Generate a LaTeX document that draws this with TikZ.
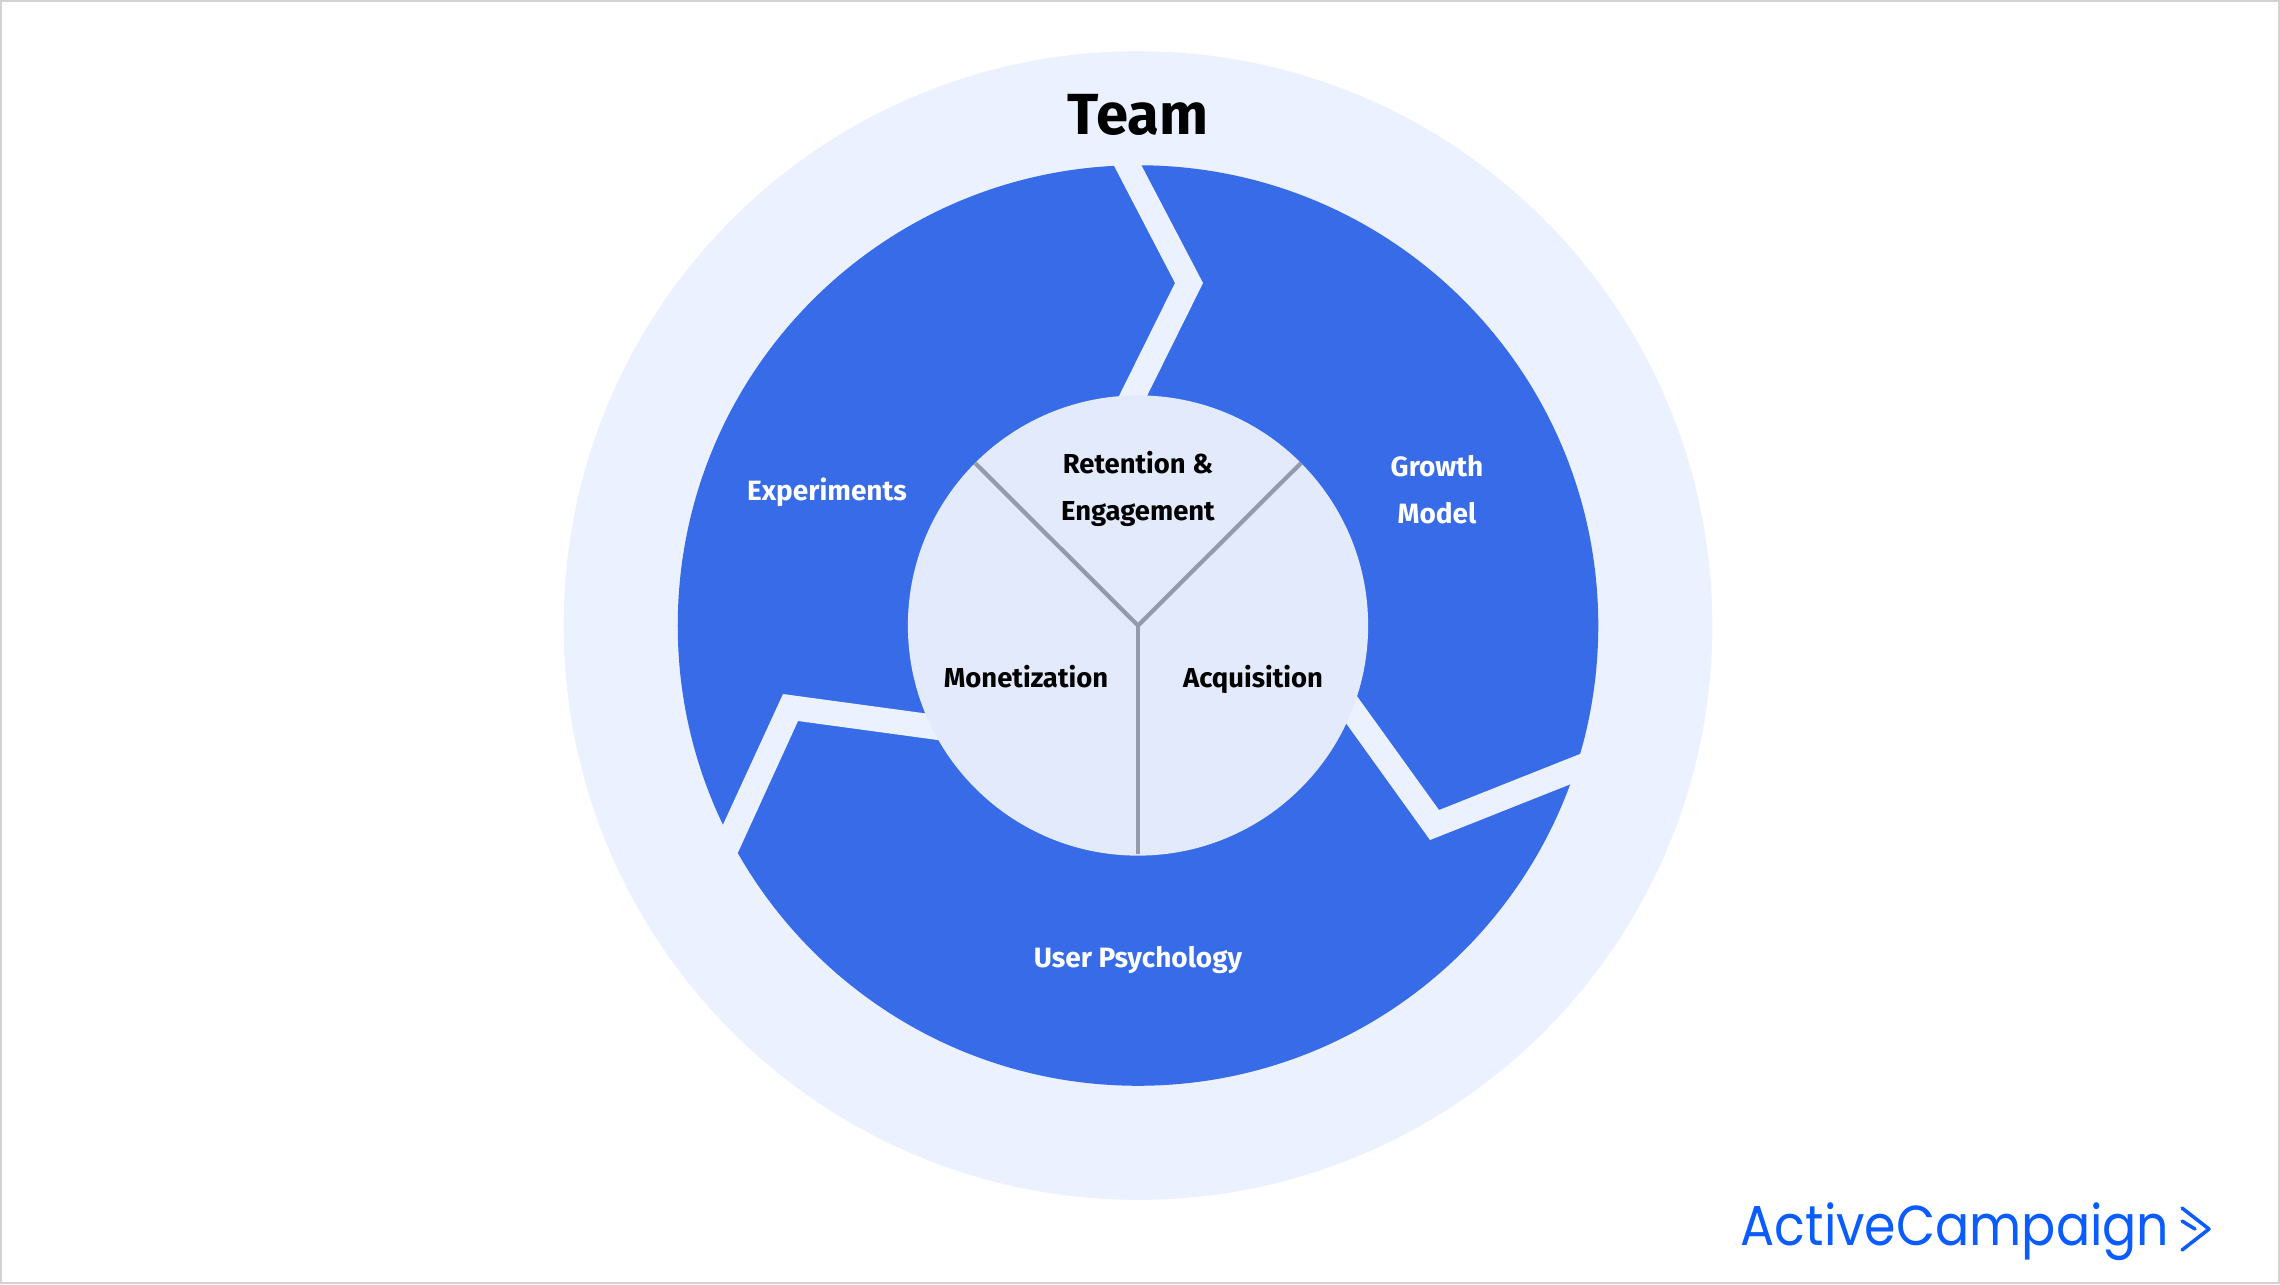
\documentclass[tikz,border=0pt]{standalone}
\usepackage{fontspec}
\setmainfont{Fira Sans}
\newfontfamily\logofont{Poppins}
\definecolor{halo}{HTML}{EBF1FE}
\definecolor{ring}{HTML}{376BE7}
\definecolor{core}{HTML}{E3EAFC}
\definecolor{spoke}{HTML}{9499AE}
\definecolor{brand}{HTML}{0A5CFF}
\definecolor{frame}{HTML}{D2D2D2}

\begin{document}
\begin{tikzpicture}[
    x=0.01cm, y=-0.01cm,
    inner/.style={font=\fontsize{7.8}{13.4}\selectfont\bfseries, text=black, align=center},
    outer/.style={font=\fontsize{7.95}{13.4}\selectfont\bfseries, text=white, align=center},
    spokeline/.style={draw=spoke, line width=1.2pt},
    chevron/.style={draw=brand, line width=1.0pt, line cap=round, line join=round}]
  % canvas of 2280 x 1284 reference pixels
  \path[use as bounding box] (0,0) rectangle (2280,1284);
  \draw[frame, line width=0.8pt] (1,1) rectangle (2279,1283);

  % ================= discs =================
  \coordinate (hub) at (1138,625.5);
  \fill[halo] (hub) circle (5.74cm);
  \fill[ring] (hub) circle (4.60cm);

  % ================= gaps between the three arrows =================
  \fill[halo] (1111,160) -- (1175,283) -- (1117,400) -- (1145,400) -- (1203,283) -- (1136,155) -- cycle;
  \fill[halo] (1354,692) -- (1439,810) -- (1600,746) -- (1590,776) -- (1571,784) -- (1430,840) -- (1343,719) -- cycle;
  \fill[halo] (930,714) -- (783,694) -- (715,842) -- (730,870) -- (798,721) -- (945,741) -- cycle;

  % ================= centre =================
  \fill[core] (hub) circle (2.30cm);
  \coordinate (spokeLeft) at (975,463);
  \coordinate (spokeRight) at (1301,463);
  \coordinate (spokeDown) at (1138,854);
  \foreach \n in {spokeLeft,spokeRight,spokeDown}
    \draw[spokeline] (hub) -- (\n);

  % ================= labels =================
  \node[font=\fontsize{16.5}{18}\selectfont\bfseries, text=black] (team) at (1138,115) {Team};
  \node[inner] (retention) at (1138,489) {Retention \&\\Engagement};
  \node[inner] (monetization) at (1026,677) {Monetization};
  \node[inner] (acquisition) at (1253,679) {Acquisition};
  \node[outer] (experiments) at (827,492) {Experiments};
  \node[outer] (growth) at (1437,490) {Growth\\Model};
  \node[outer] (psychology) at (1138,960) {User Psychology};

  % ================= logo =================
  \node[font=\logofont\fontsize{16}{20}\selectfont, text=brand, anchor=base west, inner sep=0pt] (logo) at (1740,1245) {\scalebox{0.9}[1]{ActiveCampaign}};
  \draw[chevron] (2182,1208) -- (2209,1229) -- (2182,1250);
  \draw[chevron] (2182,1221) -- (2195,1229);
\end{tikzpicture}
\end{document}
